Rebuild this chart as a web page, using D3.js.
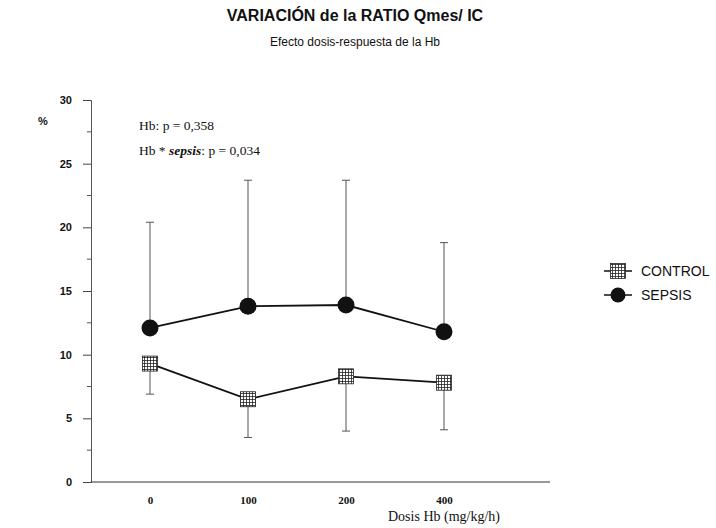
<!DOCTYPE html>
<html>
<head>
<meta charset="utf-8">
<script src="https://cdn.jsdelivr.net/npm/d3@7/dist/d3.min.js"></script>
<style>
  html, body { margin: 0; padding: 0; background: #fff; }
  svg { display: block; }
</style>
</head>
<body>
<svg id="chart" width="716" height="528"></svg>
<script>
// Hb dose levels (mg/kg/h)
const doses = ["0", "100", "200", "400"];
// Qmes/IC ratio (%) — means
const controlMean = [9.3, 6.5, 8.3, 7.8];
const sepsisMean = [12.1, 13.8, 13.9, 11.8];
// one-sided error bars (SD): control drawn downward, sepsis upward
const controlSD = [2.4, 3.0, 4.3, 3.7];
const sepsisSD = [8.3, 9.9, 9.8, 7.0];
const yTicks = [0, 5, 10, 15, 20, 25, 30];

const svg = d3.select("#chart");
const sans = "'Liberation Sans', Arial, sans-serif";
const serif = "'Liberation Serif', 'Times New Roman', serif";
const ink = "#111";

const x = d3.scalePoint().domain(doses).range([150, 444]);
const y = d3.scaleLinear().domain([0, 30]).range([482, 100]);

// titles
svg.append("text").attr("x", 355).attr("y", 21).attr("text-anchor", "middle")
  .attr("font-family", sans).attr("font-weight", "bold").attr("font-size", 16)
  .attr("fill", ink).text("VARIACIÓN de la RATIO Qmes/ IC");
svg.append("text").attr("x", 355).attr("y", 46).attr("text-anchor", "middle")
  .attr("font-family", sans).attr("font-size", 12)
  .attr("fill", ink).text("Efecto dosis-respuesta de la Hb");

// y axis
const yAxis = d3.axisLeft(y).tickValues(yTicks).tickSize(8).tickPadding(11);
const gy = svg.append("g").attr("transform", "translate(91,0)").call(yAxis);
gy.select(".domain").attr("stroke", "#555");
gy.selectAll(".tick line").attr("stroke", "#444");
gy.selectAll(".tick text").attr("font-family", sans).attr("font-weight", "bold")
  .attr("font-size", 11).attr("fill", ink);
// minor ticks
const minor = d3.range(2.5, 30, 5);
svg.append("g").selectAll("line").data(minor).join("line")
  .attr("x1", 87).attr("x2", 91).attr("y1", d => y(d)).attr("y2", d => y(d))
  .attr("stroke", "#555");
svg.append("text").attr("x", 38).attr("y", 125).attr("font-family", sans)
  .attr("font-weight", "bold").attr("font-size", 11).attr("fill", ink).text("%");

// x axis
svg.append("line").attr("x1", 91).attr("x2", 550).attr("y1", y(0)).attr("y2", y(0))
  .attr("stroke", "#333");
const gx = svg.append("g").attr("transform", `translate(0,${y(0)})`)
  .call(d3.axisBottom(x).tickSize(0).tickPadding(14));
gx.select(".domain").remove();
gx.selectAll(".tick text").attr("font-family", serif).attr("font-weight", "bold")
  .attr("font-size", 11).attr("fill", ink);
svg.append("text").attr("x", 444).attr("y", 521).attr("text-anchor", "middle")
  .attr("font-family", serif).attr("font-size", 14).attr("fill", ink)
  .text("Dosis Hb (mg/kg/h)");

// statistics annotations
svg.append("text").attr("x", 139).attr("y", 130).attr("font-family", serif)
  .attr("font-size", 13.5).attr("fill", ink).text("Hb: p = 0,358");
const t2 = svg.append("text").attr("x", 139).attr("y", 155).attr("font-family", serif)
  .attr("font-size", 13.5).attr("fill", ink);
t2.append("tspan").text("Hb * ");
t2.append("tspan").attr("font-style", "italic").attr("font-weight", "bold").text("sepsis");
t2.append("tspan").text(": p = 0,034");

// hatched square marker
const defs = svg.append("defs");
const pat = defs.append("pattern").attr("id", "hatch").attr("patternUnits", "userSpaceOnUse")
  .attr("width", 3).attr("height", 3);
pat.append("rect").attr("width", 3).attr("height", 3).attr("fill", "#fff");
pat.append("path").attr("d", "M0,0.5H3M0.5,0V3").attr("stroke", "#222").attr("stroke-width", 0.8);

function squareMarker(g, cx, cy) {
  g.append("rect").attr("x", cx - 7.5).attr("y", cy - 7.5).attr("width", 15).attr("height", 15)
    .attr("fill", "url(#hatch)").attr("stroke", "#222").attr("stroke-width", 0.8);
}

const ctrl = doses.map((d, i) => ({ d, m: controlMean[i], sd: controlSD[i] }));
const seps = doses.map((d, i) => ({ d, m: sepsisMean[i], sd: sepsisSD[i] }));

// error bars
function errBars(data, dir) {
  const g = svg.append("g").attr("stroke", "#555").attr("stroke-width", 1);
  data.forEach(p => {
    const y0 = y(p.m), y1 = y(p.m + dir * p.sd);
    g.append("line").attr("x1", x(p.d)).attr("x2", x(p.d)).attr("y1", y0).attr("y2", y1);
    g.append("line").attr("x1", x(p.d) - 4).attr("x2", x(p.d) + 4).attr("y1", y1).attr("y2", y1);
  });
}
errBars(seps, 1);
errBars(ctrl, -1);

const line = d3.line().x(p => x(p.d)).y(p => y(p.m));
svg.append("path").datum(seps).attr("d", line).attr("fill", "none")
  .attr("stroke", ink).attr("stroke-width", 1.8);
svg.append("path").datum(ctrl).attr("d", line).attr("fill", "none")
  .attr("stroke", ink).attr("stroke-width", 1.8);

svg.append("g").selectAll("circle").data(seps).join("circle")
  .attr("cx", p => x(p.d)).attr("cy", p => y(p.m)).attr("r", 8.5).attr("fill", ink);
const gc = svg.append("g");
ctrl.forEach(p => squareMarker(gc, x(p.d), y(p.m)));

// legend
const lg = svg.append("g");
lg.append("line").attr("x1", 604).attr("x2", 632).attr("y1", 271).attr("y2", 271)
  .attr("stroke", ink).attr("stroke-width", 1.5);
squareMarker(lg, 618, 271);
lg.append("text").attr("x", 641).attr("y", 276).attr("font-family", sans)
  .attr("font-size", 14).attr("fill", ink).text("CONTROL");
lg.append("line").attr("x1", 604).attr("x2", 632).attr("y1", 295).attr("y2", 295)
  .attr("stroke", ink).attr("stroke-width", 1.5);
lg.append("circle").attr("cx", 618).attr("cy", 295).attr("r", 7.5).attr("fill", ink);
lg.append("text").attr("x", 641).attr("y", 300).attr("font-family", sans)
  .attr("font-size", 14).attr("fill", ink).text("SEPSIS");
</script>
</body>
</html>
